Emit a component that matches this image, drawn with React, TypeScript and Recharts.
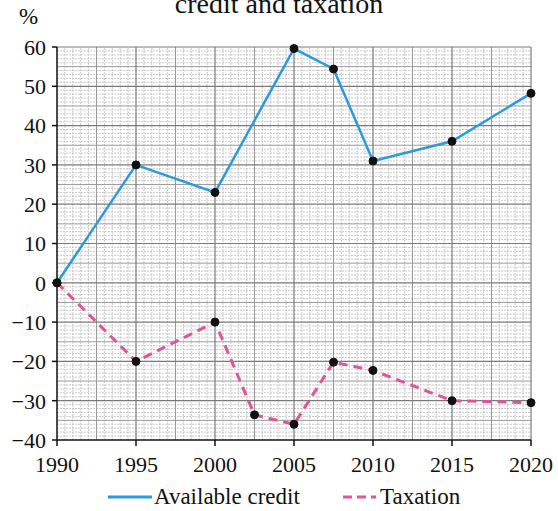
import React from 'react';
import { LineChart, Line, XAxis, YAxis, ReferenceLine } from 'recharts';

const creditYears = [1990, 1995, 2000, 2005, 2007.5, 2010, 2015, 2020];
const creditValues = [0, 30, 23, 59.6, 54.4, 31, 36, 48.2];
const taxYears = [1990, 1995, 2000, 2002.5, 2005, 2007.5, 2010, 2015, 2020];
const taxValues = [0, -20, -10, -33.6, -36, -20.2, -22.3, -30, -30.5];
const xTicks = [1990, 1995, 2000, 2005, 2010, 2015, 2020];
const yTicks = [-40, -30, -20, -10, 0, 10, 20, 30, 40, 50, 60];

const creditData = creditYears.map((year, i) => ({ year, value: creditValues[i] }));
const taxData = taxYears.map((year, i) => ({ year, value: taxValues[i] }));

const FONT = '"Liberation Serif", "Times New Roman", serif';

const range = (a: number, b: number, step: number) => {
  const out: number[] = [];
  for (let i = 0; a + i * step <= b + 1e-9; i++) out.push(+(a + i * step).toFixed(3));
  return out;
};
const xMinor = range(1990, 2020, 0.5).filter(v => Math.abs((v - 1990) % 2.5) > 1e-6);
const xMid = range(1992.5, 2020, 5);
const xMajor = range(1995, 2020, 5);
const yMinor = range(-40, 60, 1).filter(v => v % 5 !== 0);
const yMid = range(-35, 60, 10);
const yMajor = range(-30, 60, 10);

const fmt = (v: number) => String(v).replace('-', '\u2212');

export default function App() {
  return (
    <div style={{ position: 'absolute', left: 0, top: 0, width: 558, height: 511, background: '#fff', fontFamily: FONT }}>
      <div style={{ position: 'absolute', left: 0, width: 558, top: -12, textAlign: 'center', fontSize: 28, color: '#111', lineHeight: '32px' }}>
        credit and taxation
      </div>
      <div style={{ position: 'absolute', left: 19, top: 5, fontSize: 23, color: '#111', lineHeight: '24px' }}>%</div>
      <LineChart width={558} height={511} data={creditData} margin={{ top: 47, right: 27, bottom: 41, left: 0 }}>
        {xMinor.map(v => (
          <ReferenceLine key={'xm' + v} x={v} stroke="#bdbdbd" strokeWidth={0.8} strokeDasharray="2 1" />
        ))}
        {yMinor.map(v => (
          <ReferenceLine key={'ym' + v} y={v} stroke="#bdbdbd" strokeWidth={0.8} strokeDasharray="2 1" />
        ))}
        {xMid.map(v => (
          <ReferenceLine key={'xd' + v} x={v} stroke="#9a9a9a" strokeWidth={1} />
        ))}
        {yMid.map(v => (
          <ReferenceLine key={'yd' + v} y={v} stroke="#9a9a9a" strokeWidth={1} />
        ))}
        {xMajor.map(v => (
          <ReferenceLine key={'xj' + v} x={v} stroke="#7a7a7a" strokeWidth={1.2} />
        ))}
        {yMajor.map(v => (
          <ReferenceLine key={'yj' + v} y={v} stroke="#7a7a7a" strokeWidth={1.2} />
        ))}
        <XAxis
          dataKey="year"
          type="number"
          domain={[1990, 2020]}
          ticks={xTicks}
          allowDuplicatedCategory={false}
          height={30}
          tickSize={6}
          tickMargin={10}
          axisLine={{ stroke: '#111', strokeWidth: 1.5 }}
          tickLine={{ stroke: '#111', strokeWidth: 1.5 }}
          tick={{ fill: '#111', fontSize: 22, fontFamily: FONT }}
        />
        <YAxis
          type="number"
          domain={[-40, 60]}
          ticks={yTicks}
          width={57}
          tickSize={5}
          tickMargin={6}
          tickFormatter={fmt}
          axisLine={{ stroke: '#111', strokeWidth: 1.5 }}
          tickLine={{ stroke: '#111', strokeWidth: 1.5 }}
          tick={{ fill: '#111', fontSize: 22, fontFamily: FONT }}
        />
        <Line
          data={creditData}
          dataKey="value"
          stroke="#2b9bd9"
          strokeWidth={2.5}
          dot={{ r: 4, fill: '#111', stroke: '#111', strokeWidth: 1 }}
          isAnimationActive={false}
        />
        <Line
          data={taxData}
          dataKey="value"
          stroke="#e0559a"
          strokeWidth={3}
          strokeDasharray="9 6"
          dot={{ r: 4, fill: '#111', stroke: '#111', strokeWidth: 1, strokeDasharray: '' }}
          isAnimationActive={false}
        />
      </LineChart>
      <div style={{ position: 'absolute', left: 0, top: 484, width: 558, height: 26, fontSize: 23, color: '#111' }}>
        <svg style={{ position: 'absolute', left: 106, top: 10 }} width={48} height={6}>
          <line x1={2} y1={3} x2={46} y2={3} stroke="#2b9bd9" strokeWidth={3} />
        </svg>
        <span style={{ position: 'absolute', left: 154, top: 0, lineHeight: '26px', whiteSpace: 'nowrap' }}>Available credit</span>
        <svg style={{ position: 'absolute', left: 340, top: 10 }} width={38} height={6}>
          <line x1={3} y1={3} x2={36} y2={3} stroke="#e0559a" strokeWidth={3} strokeDasharray="9 5" />
        </svg>
        <span style={{ position: 'absolute', left: 380, top: 0, lineHeight: '26px', whiteSpace: 'nowrap' }}>Taxation</span>
      </div>
    </div>
  );
}
